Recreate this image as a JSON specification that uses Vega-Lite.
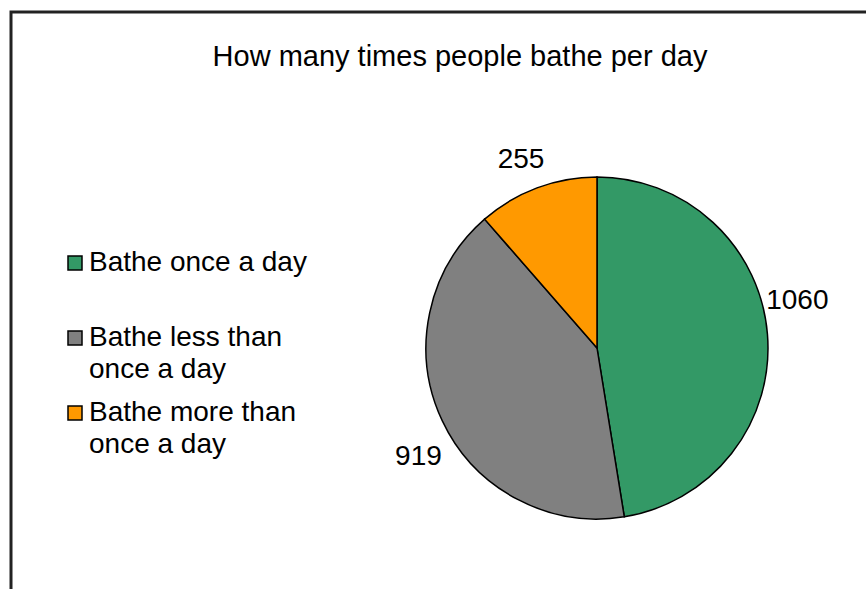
{
  "$schema": "https://vega.github.io/schema/vega-lite/v6.json",
  "autosize": "none",
  "padding": {"left": 11, "top": 12, "right": 0, "bottom": 0},
  "width": 1172,
  "height": 672,
  "background": "white",
  "view": {"stroke": "#222222", "strokeWidth": 3, "fill": "white"},
  "config": {
    "font": "Liberation Sans"
  },
  "title": {
    "text": "How many times people bathe per day",
    "font": "Liberation Sans",
    "fontSize": 29,
    "fontWeight": "normal",
    "color": "black",
    "anchor": "middle",
    "frame": "group",
    "offset": 0,
    "baseline": "alphabetic",
    "dx": -137,
    "dy": 83
  },
  "data": {
    "values": [
      {"category": "Bathe once a day", "count": 1060, "rank": 1},
      {"category": "Bathe less than once a day", "count": 919, "rank": 2},
      {"category": "Bathe more than once a day", "count": 255, "rank": 3}
    ]
  },
  "encoding": {
    "theta": {"field": "count", "type": "quantitative", "stack": true},
    "order": {"field": "rank", "type": "quantitative"}
  },
  "layer": [
    {
      "mark": {"type": "arc", "outerRadius": 171, "stroke": "black", "strokeWidth": 1.5},
      "encoding": {
        "color": {
          "field": "category",
          "type": "nominal",
          "scale": {
            "domain": ["Bathe once a day", "Bathe less than once a day", "Bathe more than once a day"],
            "range": ["#339966", "#808080", "#FF9900"]
          },
          "legend": {
            "orient": "none",
            "legendX": 50,
            "legendY": 237,
            "title": null,
            "padding": 0,
            "symbolType": "square",
            "symbolSize": 196,
            "symbolStrokeColor": "black",
            "symbolStrokeWidth": 1.5,
            "symbolOpacity": 1,
            "labelFont": "Liberation Sans",
            "labelFontSize": 28,
            "labelColor": "black",
            "labelLimit": 500,
            "labelOffset": 0,
            "labelBaseline": "line-top",
            "rowPadding": 15,
            "labelExpr": "indexof(datum.label, ' than ') > 0 ? split(replace(datum.label, ' than ', ' than|'), '|') : [datum.label, ' ']",
            "encode": {
              "labels": {"update": {"dy": {"value": -16}, "lineHeight": {"value": 32}}}
            }
          }
        }
      }
    },
    {
      "mark": {
        "type": "text", "radius": 205, "fontSize": 28, "font": "Liberation Sans", "color": "black",
        "align": "center", "baseline": "middle",
        "dx": {"expr": "datum.category == 'Bathe once a day' ? -4 : datum.category == 'Bathe less than once a day' ? 7 : -4"},
        "dy": {"expr": "datum.category == 'Bathe once a day' ? -31 : datum.category == 'Bathe less than once a day' ? 22 : 4"}
      },
      "encoding": {
        "text": {"field": "count", "type": "quantitative"}
      }
    }
  ]
}
